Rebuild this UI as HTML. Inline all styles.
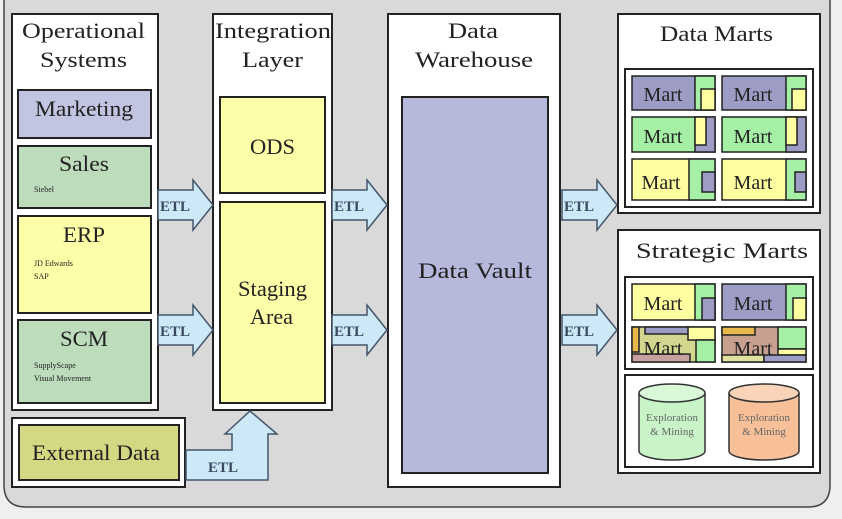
<!DOCTYPE html>
<html><head><meta charset="utf-8"><style>
html,body{margin:0;padding:0;background:#efefef;}
svg{display:block;}
text{font-family:"Liberation Serif",serif;fill:#222;}
</style></head><body>
<svg width="842" height="519" viewBox="0 0 842 519" xmlns="http://www.w3.org/2000/svg">
<rect x="0" y="0" width="842" height="519" fill="#efefef"/>
<path d="M4,-2 L4,485 Q4,507 26,507 L808,507 Q830,507 830,485 L830,-2 Z" fill="#d9d9d9" stroke="#444" stroke-width="1.5"/>

<g stroke="#222" stroke-width="2">
<rect x="12" y="14" width="146" height="396" fill="#fff"/>
<rect x="18" y="90" width="133" height="48" fill="#c2c5e2"/>
<rect x="18" y="146" width="133" height="62" fill="#bcdcbc"/>
<rect x="18" y="216" width="133" height="97" fill="#fffea8"/>
<rect x="18" y="320" width="133" height="83" fill="#bcdcbc"/>
<rect x="213" y="14" width="119" height="396" fill="#fff"/>
<rect x="220" y="97" width="105" height="96" fill="#fffea8"/>
<rect x="220" y="202" width="105" height="201" fill="#fffea8"/>
<rect x="12" y="418" width="173" height="69" fill="#fff"/>
<rect x="19" y="425" width="160" height="55" fill="#d4d882"/>
<rect x="388" y="14" width="172" height="473" fill="#fff"/>
<rect x="402" y="97" width="146" height="376" fill="#b6b9dc"/>
<rect x="618" y="14" width="202" height="199" fill="#fff"/>
<rect x="625" y="69" width="188" height="138" fill="#fff"/>
<rect x="618" y="230" width="202" height="243" fill="#fff"/>
<rect x="625" y="277" width="188" height="92" fill="#fff"/>
<rect x="625" y="375" width="188" height="92" fill="#fff"/>
</g>

<g fill="#cde9f8" stroke="#44556a" stroke-width="1.5">
<path d="M158,190 L193,190 L193,180 L213,205 L193,230 L193,220 L158,220 Z"/>
<path d="M158,315 L193,315 L193,305 L213,330 L193,355 L193,345 L158,345 Z"/>
<path d="M332,190 L367,190 L367,180 L387,205 L367,230 L367,220 L332,220 Z"/>
<path d="M332,315 L367,315 L367,305 L387,330 L367,355 L367,345 L332,345 Z"/>
<path d="M562,190 L597,190 L597,180 L617,205 L597,230 L597,220 L562,220 Z"/>
<path d="M562,315 L597,315 L597,305 L617,330 L597,355 L597,345 L562,345 Z"/>
<path d="M186,450 L232,450 L232,434 L225,434 L250,411 L277,434 L268,434 L268,480 L186,480 Z"/>
</g>
<g font-size="15" font-weight="bold">
<text x="160" y="211" style="fill:#3a4a60">ETL</text>
<text x="160" y="336" style="fill:#3a4a60">ETL</text>
<text x="334" y="211" style="fill:#3a4a60">ETL</text>
<text x="334" y="336" style="fill:#3a4a60">ETL</text>
<text x="564" y="211" style="fill:#3a4a60">ETL</text>
<text x="564" y="336" style="fill:#3a4a60">ETL</text>
<text x="208" y="472" style="fill:#3a4a60">ETL</text>
</g>

<g font-size="22" lengthAdjust="spacingAndGlyphs">
<text x="22" y="38" textLength="123" lengthAdjust="spacingAndGlyphs">Operational</text>
<text x="40" y="67" textLength="87" lengthAdjust="spacingAndGlyphs">Systems</text>
<text x="215" y="38" textLength="116" lengthAdjust="spacingAndGlyphs">Integration</text>
<text x="242" y="67" textLength="61" lengthAdjust="spacingAndGlyphs">Layer</text>
<text x="448" y="38" textLength="50" lengthAdjust="spacingAndGlyphs">Data</text>
<text x="415" y="67" textLength="118" lengthAdjust="spacingAndGlyphs">Warehouse</text>
<text x="660" y="41" textLength="113" lengthAdjust="spacingAndGlyphs">Data Marts</text>
<text x="636" y="258" textLength="172" lengthAdjust="spacingAndGlyphs">Strategic Marts</text>
<text x="35" y="116" textLength="98" lengthAdjust="spacingAndGlyphs">Marketing</text>
<text x="59" y="171" textLength="50" lengthAdjust="spacingAndGlyphs">Sales</text>
<text x="63" y="242" textLength="42" lengthAdjust="spacingAndGlyphs">ERP</text>
<text x="60" y="346" textLength="48" lengthAdjust="spacingAndGlyphs">SCM</text>
<text x="250" y="154" textLength="45" lengthAdjust="spacingAndGlyphs">ODS</text>
<text x="238" y="296" textLength="69" lengthAdjust="spacingAndGlyphs">Staging</text>
<text x="250" y="324" textLength="43" lengthAdjust="spacingAndGlyphs">Area</text>
<text x="418" y="278" textLength="114" lengthAdjust="spacingAndGlyphs">Data Vault</text>
<text x="32" y="460" textLength="128" lengthAdjust="spacingAndGlyphs">External Data</text>
</g>
<g font-size="8" style="fill:#555">
<text x="34" y="192">Siebel</text>
<text x="34" y="266">JD Edwards</text>
<text x="34" y="279">SAP</text>
<text x="34" y="368">SupplyScape</text>
<text x="34" y="381">Visual Movement</text>
</g>

<g stroke="#222" stroke-width="1.5">
<rect x="632" y="76" width="83" height="34" fill="#9c9cc4"/>
<rect x="695" y="76" width="20" height="34" fill="#a6f0a6"/>
<path d="M701,110 L701,89 L715,89 L715,110 Z" fill="#fefea0"/>
<rect x="722" y="76" width="84" height="34" fill="#9c9cc4"/>
<rect x="786" y="76" width="20" height="34" fill="#a6f0a6"/>
<path d="M792,110 L792,89 L806,89 L806,110 Z" fill="#fefea0"/>

<rect x="632" y="117" width="83" height="35" fill="#a6f0a6"/>
<rect x="695" y="117" width="20" height="35" fill="#9c9cc4"/>
<path d="M695,117 L706,117 L706,145 L695,145 Z" fill="#fefea0"/>
<rect x="722" y="117" width="84" height="35" fill="#a6f0a6"/>
<rect x="786" y="117" width="20" height="35" fill="#9c9cc4"/>
<path d="M786,117 L797,117 L797,145 L786,145 Z" fill="#fefea0"/>

<rect x="632" y="159" width="83" height="41" fill="#fefea0"/>
<rect x="689" y="159" width="26" height="41" fill="#a6f0a6"/>
<rect x="702" y="172" width="13" height="20" fill="#9c9cc4"/>
<rect x="722" y="159" width="84" height="41" fill="#fefea0"/>
<rect x="786" y="159" width="20" height="41" fill="#a6f0a6"/>
<rect x="795" y="172" width="11" height="20" fill="#9c9cc4"/>

<rect x="632" y="284" width="83" height="36" fill="#fefea0"/>
<rect x="695" y="284" width="20" height="36" fill="#a6f0a6"/>
<rect x="702" y="298" width="13" height="22" fill="#9c9cc4"/>
<rect x="722" y="284" width="84" height="36" fill="#9c9cc4"/>
<rect x="786" y="284" width="20" height="36" fill="#a6f0a6"/>
<rect x="793" y="298" width="13" height="22" fill="#fefea0"/>

<rect x="632" y="327" width="83" height="35" fill="#d2d68e"/>
<rect x="632" y="327" width="7" height="25" fill="#e8b84a"/>
<rect x="645" y="327" width="45" height="7" fill="#9c9cc4"/>
<rect x="688" y="327" width="27" height="13" fill="#fefea0"/>
<rect x="696" y="340" width="19" height="22" fill="#a6f0a6"/>
<rect x="632" y="354" width="58" height="8" fill="#c8a0a0"/>
<rect x="722" y="327" width="84" height="35" fill="#c8a090"/>
<rect x="722" y="327" width="33" height="8" fill="#e8b84a"/>
<rect x="778" y="327" width="28" height="22" fill="#a6f0a6"/>
<rect x="778" y="349" width="28" height="6" fill="#fefea0"/>
<rect x="722" y="355" width="42" height="7" fill="#e0e0a0"/>
<rect x="764" y="355" width="42" height="7" fill="#9c9cc4"/>
</g>
<g font-size="20" text-anchor="middle">
<text x="663" y="101">Mart</text><text x="753" y="101">Mart</text>
<text x="663" y="143">Mart</text><text x="753" y="143">Mart</text>
<text x="661" y="189">Mart</text><text x="753" y="189">Mart</text>
<text x="663" y="310">Mart</text><text x="753" y="310">Mart</text>
<text x="663" y="355">Mart</text><text x="753" y="355">Mart</text>
</g>

<g stroke="#333" stroke-width="1.5">
<path d="M639,393 L639,451 A33,9 0 0 0 705,451 L705,393" fill="#c8f4c8"/>
<ellipse cx="672" cy="393" rx="33" ry="9" fill="#d8f8d8"/>
<path d="M729,393 L729,451 A35,9 0 0 0 799,451 L799,393" fill="#f8c098"/>
<ellipse cx="764" cy="393" rx="35" ry="9" fill="#fad4b8"/>
</g>
<g font-size="11" text-anchor="middle">
<text x="672" y="421" style="fill:#666">Exploration</text>
<text x="672" y="435" style="fill:#666">&amp; Mining</text>
<text x="764" y="421" style="fill:#666">Exploration</text>
<text x="764" y="435" style="fill:#666">&amp; Mining</text>
</g>
</svg>
</body></html>
